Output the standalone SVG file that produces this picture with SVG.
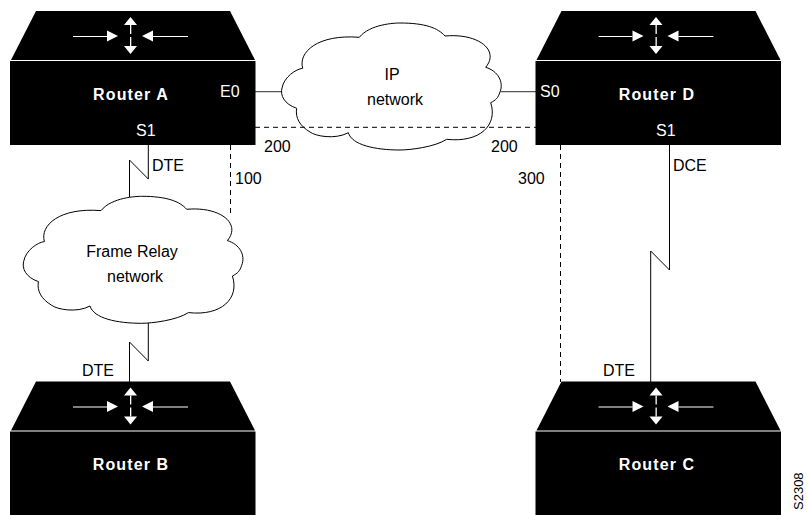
<svg xmlns="http://www.w3.org/2000/svg" xmlns:xlink="http://www.w3.org/1999/xlink" width="807" height="515" viewBox="0 0 807 515">
<style>
text{font-family:"Liberation Sans",Arial,sans-serif;font-size:16px;fill:#000}
.w{fill:#fff}
.n{fill:#fff;font-weight:bold;letter-spacing:1.1px;text-anchor:middle}
.c{text-anchor:middle}
.wire{fill:none;stroke:#000;stroke-width:1}
.gray{fill:none;stroke:#555;stroke-width:1.2}
.dash{fill:none;stroke:#000;stroke-width:1;stroke-dasharray:5 4}
.dashw{fill:none;stroke:#fff;stroke-width:1;stroke-dasharray:5 4}
.cloud{fill:#fff;stroke:#000;stroke-width:1}
</style>
<defs>
<g id="router">
<path d="M26 0H220L245 49H1Z" fill="#000"/>
<rect x="0" y="50" width="245.500" height="84" fill="#000"/>
<g fill="#fff" stroke="none">
<path d="M63 25H97V24H97V26H63Z"/>
<path d="M97 19.500L108 25L97 30.500Z"/>
<path d="M143 25H178V24H178V26H143Z" transform="translate(0,0)"/>
<path d="M132 25L143 19.500V30.500Z"/>
<path d="M120.500 6L127 14H114Z"/>
<path d="M120.500 43L127 35H114Z"/>
<rect x="120" y="14" width="1.300" height="9"/>
<rect x="120" y="26" width="1.300" height="9"/>
</g>
</g>
<path id="cloud" d="M296.700 108.300C284 104 280 95 282 88C284 77 296 69 302.700 68.300C298 52 318 34 359.300 37.300C370 24 395 23 400 23C425 23 438 28 445 36C478 33 500 50 485.700 67.300C498 71 504 82 500 92C498 98 496 100 490.700 102.700C498 125 480 143 446.700 139.300C435 147 410 150 400 150C375 150 352 145 348.300 132.700C335 140 315 136 310 132C300 126 295 118 296.700 108.300Z"/>
</defs>
<g id="connectors">
<path class="gray" d="M255 91.700H282M501 91.700H536"/>
<path class="wire" d="M148.300 145V179L129.500 160V197"/>
<path class="wire" d="M148.300 323V361L129.500 342V382"/>
<path class="wire" d="M669.500 145V270L650.700 251V382"/>
</g>
<use id="cloud-ip" class="cloud" xlink:href="#cloud" href="#cloud"/>
<use id="cloud-fr" class="cloud" xlink:href="#cloud" href="#cloud" transform="translate(-258.300,173.300)"/>
<g id="pvc">
<path class="dash" d="M255 127.300H536"/>
<path class="dash" d="M230.500 145V213"/>
<path class="dash" d="M560.500 145V382"/>
<path class="dashw" d="M231 145C233 134 243 127.300 255 127.300"/>
<path class="dashw" d="M536 127.300C548 127.300 558 134 560 145"/>
</g>
<g id="router-a"><use href="#router" xlink:href="#router" x="10" y="11"/>
<text class="n" x="131" y="100">Router A</text>
<text class="w" x="220" y="97">E0</text>
<text class="w" x="136" y="136">S1</text></g>
<g id="router-d"><use href="#router" xlink:href="#router" x="535.500" y="11"/>
<text class="n" x="657" y="100">Router D</text>
<text class="w" x="540" y="97">S0</text>
<text class="w" x="656" y="136">S1</text></g>
<g id="router-b"><use href="#router" xlink:href="#router" x="10" y="381.500"/>
<text class="n" x="131" y="470">Router B</text></g>
<g id="router-c"><use href="#router" xlink:href="#router" x="535.500" y="381.500"/>
<text class="n" x="657" y="470">Router C</text></g>
<g id="labels">
<text x="152" y="171">DTE</text>
<text x="264" y="152">200</text>
<text x="235" y="184">100</text>
<text x="491" y="152">200</text>
<text x="518" y="184">300</text>
<text x="673" y="171">DCE</text>
<text x="82" y="376">DTE</text>
<text x="603" y="376">DTE</text>
<text class="c" x="392" y="80">IP</text>
<text class="c" x="395" y="105">network</text>
<text class="c" x="132" y="257">Frame Relay</text>
<text class="c" x="135" y="282">network</text>
<text x="803" y="510" style="font-size:13px" transform="rotate(-90 803 510)">S2308</text>
</g>
</svg>
